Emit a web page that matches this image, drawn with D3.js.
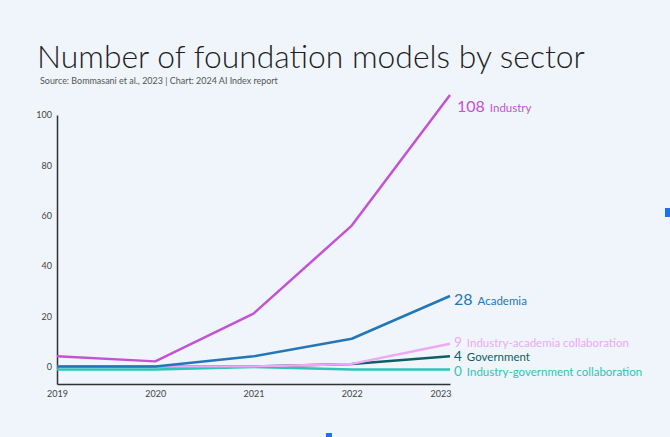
<!DOCTYPE html>
<html>
<head>
<meta charset="utf-8">
<script src="https://cdn.jsdelivr.net/npm/d3@7"></script>
<style>
  html, body { margin: 0; padding: 0; background: #eff5fa; }
  svg { display: block; font-family: Lato, "Open Sans", sans-serif; }
</style>
</head>
<body>
<div id="chart-area"></div>
<script>
const years = [2019, 2020, 2021, 2022, 2023]
const yTicks = [0, 20, 40, 60, 80, 100]

const industry = [4, 2, 21, 56, 108]
const academia = [0, 0, 4, 11, 28]
const industryAcademia = [0, 0, 0, 1, 9]
const government = [0, 0, 0, 1, 4]
const industryGovernment = [0, 0, 1, 0, 0]

const series = [
  { name: "Industry-government collaboration", values: industryGovernment, color: "#2ec4b6", shift: 3, labelY: 370, num: 13.5 },
  { name: "Government", values: government, color: "#0f5e63", shift: 0, labelY: 355.5, num: 13.5 },
  { name: "Industry-academia collaboration", values: industryAcademia, color: "#eea8f6", shift: 0, labelY: 341, num: 13.5 },
  { name: "Academia", values: academia, color: "#2377b8", shift: 0, labelY: 299, num: 16 },
  { name: "Industry", values: industry, color: "#c452d4", shift: 0, labelY: 106, num: 16 }
]

const WIDTH = 670, HEIGHT = 437
const svg = d3.select("#chart-area").append("svg")
    .attr("width", WIDTH)
    .attr("height", HEIGHT)

svg.append("rect").attr("width", WIDTH).attr("height", HEIGHT).attr("fill", "#eff5fa")

// title
const title = svg.append("text")
    .attr("x", 37)
    .attr("y", 68)
    .attr("font-size", "31px")
    .attr("font-weight", 300)
    .attr("fill", "#1e1e1e")
    .text("Number of foundation models by sector")
let tw = title.node().getComputedTextLength()
title.attr("font-size", (31 * 548 / tw) + "px")

const sub = svg.append("text")
    .attr("x", 40)
    .attr("y", 84)
    .attr("font-size", "9px")
    .attr("fill", "#555")
    .text("Source: Bommasani et al., 2023 | Chart: 2024 AI Index report")
let sw = sub.node().getComputedTextLength()
sub.attr("font-size", (9 * 238 / sw) + "px")

const x = d3.scalePoint()
    .domain(years)
    .range([57, 450])

const y = d3.scaleLinear()
    .domain([-7, 100])
    .range([384, 115])

// y axis
const yAxis = svg.append("g")
    .attr("transform", `translate(57, 0)`)
    .call(d3.axisLeft(y).tickValues(yTicks).tickSize(0).tickPadding(5))
yAxis.select(".domain").attr("stroke", "#333").attr("stroke-width", 1.5)
yAxis.selectAll("text").attr("font-size", "9px").attr("fill", "#444").attr("font-family", "Lato, sans-serif")

// x axis
const xAxis = svg.append("g")
    .attr("transform", `translate(0, ${y(-7)})`)
    .call(d3.axisBottom(x).tickSize(0).tickPadding(7))
xAxis.select(".domain").attr("stroke", "#333").attr("stroke-width", 1.5)
xAxis.selectAll("text").attr("font-size", "9px").attr("fill", "#444").attr("font-family", "Lato, sans-serif")
xAxis.selectAll("text").filter(d => d === 2023).attr("text-anchor", "end").attr("dx", "1")

const line = d3.line()
    .x((d, i) => x(years[i]))
    .y(d => y(d))

series.forEach(s => {
  svg.append("path")
      .datum(s.values)
      .attr("fill", "none")
      .attr("stroke", s.color)
      .attr("stroke-width", 2.5)
      .attr("stroke-linejoin", "round")
      .attr("transform", `translate(0, ${s.shift})`)
      .attr("d", line)
})

// end labels
series.forEach(s => {
  const last = s.values[s.values.length - 1]
  const t = svg.append("text")
      .attr("x", x(2023) + (s.name === "Industry" ? 7 : 4))
      .attr("y", s.labelY)
      .attr("dy", "0.35em")
      .attr("fill", s.color)
  t.append("tspan").attr("font-size", s.num + "px").text(last)
  t.append("tspan").attr("font-size", "11.5px").attr("dx", "5").text(s.name)
})

// little blue markers at edges
svg.append("rect").attr("x", 665).attr("y", 208).attr("width", 5).attr("height", 9).attr("fill", "#1a73e8")
svg.append("rect").attr("x", 326).attr("y", 433).attr("width", 6).attr("height", 4).attr("fill", "#1a73e8")
</script>
</body>
</html>
